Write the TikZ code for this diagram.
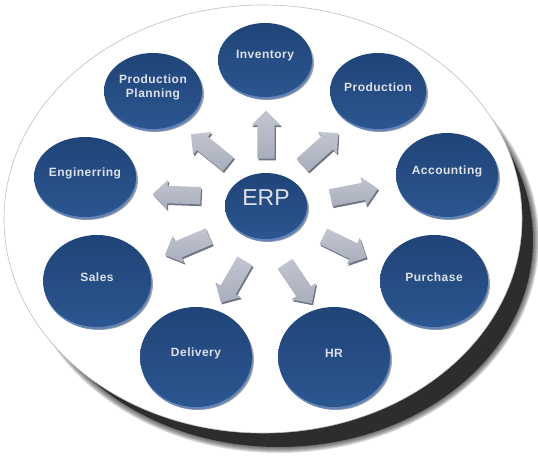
\documentclass[tikz,border=0pt]{standalone}
\usepackage{fontspec}
\setmainfont{Liberation Sans}
\newfontfamily\bubblefont{Liberation Sans}[LetterSpace=4]
\usetikzlibrary{shapes.geometric,shapes.arrows,shadows}
\definecolor{shadowC}{RGB}{45,45,45}
\definecolor{blueTop}{RGB}{31,68,120}
\definecolor{blueBot}{RGB}{44,86,144}
\definecolor{bevelC}{RGB}{98,132,182}
\definecolor{textC}{RGB}{222,225,232}
\definecolor{arrowC}{RGB}{168,173,188}
\definecolor{arrowDark}{RGB}{112,117,132}
\pgfdeclareradialshading{plateshade}{\pgfpoint{0bp}{0bp}}{color(0bp)=(white); color(41bp)=(white); color(48bp)=(black!9); color(50bp)=(black!22); color(51bp)=(black!22)}
\begin{document}
\begin{tikzpicture}[x=1pt,y=-1pt,
  bubble/.style={ellipse, inner sep=0pt, top color=blueTop, bottom color=blueBot,
    drop shadow={shadow xshift=2pt, shadow yshift=-3pt, fill=black, opacity=0.35},
    general shadow={shadow xshift=0.8pt, shadow yshift=-2.4pt, fill=bevelC}},
  btext/.style={text=textC, font=\bubblefont\bfseries\fontsize{12}{14}\selectfont, align=center, yshift=4pt},
  blockarr/.style={single arrow, minimum height=48pt, inner xsep=0pt, inner ysep=8.5pt,
    single arrow head extend=6pt, top color=arrowC!70!white, bottom color=arrowC, shading angle=0,
    general shadow={shadow xshift=1.2pt, shadow yshift=-1.8pt, fill=arrowDark}}]
\useasboundingbox (0,0) rectangle (538,463);
% plate shadow
\fill[shadowC] (279,240) ellipse [x radius=254, y radius=207];
\foreach \i in {1,...,6}
  \fill[shadowC, opacity=0.16] (279,240) ellipse [x radius=254+\i, y radius=207+\i];
% plate
\shade[shading=plateshade] (263,219) ellipse [x radius=259, y radius=214];
\draw[black!25, line width=0.6pt] (263,219) ellipse [x radius=259, y radius=214];
% bubbles
\node[bubble, minimum width=82pt, minimum height=66pt,
  label={[btext, yshift=4pt, font=\fontsize{23}{25}\selectfont]center:ERP}] (erp) at (266,206) {};
\node[bubble, minimum width=94pt, minimum height=74pt, label={[btext]center:Inventory}] (inv) at (265,60) {};
\node[bubble, minimum width=98pt, minimum height=76pt, label={[btext]center:{Production\\Planning}}] (pp) at (153,91) {};
\node[bubble, minimum width=96pt, minimum height=76pt, label={[btext]center:Production}] (prod) at (378,91) {};
\node[bubble, minimum width=102pt, minimum height=80pt, label={[btext]center:Enginerring}] (eng) at (85,177) {};
\node[bubble, minimum width=102pt, minimum height=84pt, label={[btext]center:Accounting}] (acc) at (447,175) {};
\node[bubble, minimum width=108pt, minimum height=92pt, label={[btext]center:Sales}] (sal) at (97,281) {};
\node[bubble, minimum width=108pt, minimum height=92pt, label={[btext]center:Purchase}] (pur) at (434,281) {};
\node[bubble, minimum width=112pt, minimum height=100pt, label={[btext]center:Delivery}] (del) at (196,357) {};
\node[bubble, minimum width=112pt, minimum height=100pt, label={[btext]center:HR}] (hr) at (334,357) {};
% arrows
\node[blockarr, rotate=90] (a1) at (266,139) {};
\node[blockarr, rotate=141] (a2) at (213,152) {};
\node[blockarr, rotate=42] (a3) at (317,152) {};
\node[blockarr, rotate=178] (a4) at (181,195) {};
\node[blockarr, rotate=11] (a5) at (350,194) {};
\node[blockarr, rotate=203] (a6) at (191,244) {};
\node[blockarr, rotate=-26] (a7) at (341,245) {};
\node[blockarr, rotate=-120] (a8) at (235,278) {};
\node[blockarr, rotate=-56] (a9) at (296,280) {};
\end{tikzpicture}
\end{document}
